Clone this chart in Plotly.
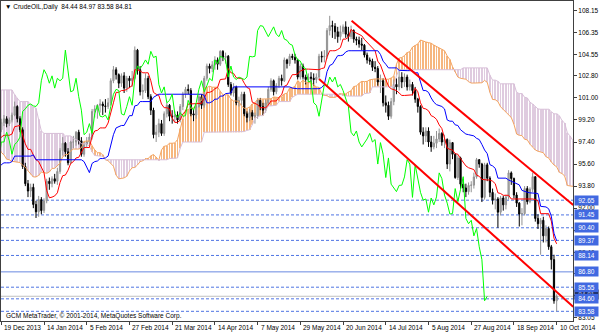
import numpy as np
import pandas as pd
import plotly.graph_objects as go

# ---------------- data (CrudeOIL, Daily) ----------------
# hidden history before the first visible bar (only highs/lows, used by the Ichimoku lookback)
pre_high = [108.9, 108.9, 109.3, 108.6, 108.6, 110.7, 110.0, 109.5, 108.0, 108.9,
            108.8, 108.9, 106.4, 108.7, 108.5, 106.7, 104.8, 104.0, 103.5, 103.5,
            103.2, 102.8, 102.9, 104.3, 104.4, 104.0, 103.9, 104.0, 103.6, 103.4,
            103.2, 102.7, 102.5, 102.7, 102.3, 101.4, 100.8, 99.6, 98.4, 97.9,
            98.0, 99.0, 98.8, 98.5, 97.0, 96.6, 95.0, 95.1, 95.2, 95.4,
            95.1, 95.3, 95.1, 94.0, 94.0, 94.3, 94.5, 93.5, 94.4, 95.6,
            95.5, 95.1, 94.1, 93.5, 93.4, 93.8, 96.1, 97.4, 97.6, 97.9,
            98.1, 98.7, 98.5, 98.1, 97.8, 97.7, 97.5, 98.3]
pre_low = [107.3, 107.3, 106.8, 106.8, 106.9, 107.3, 108.8, 106.7, 106.9, 107.4,
           107.6, 105.9, 105.0, 104.9, 106.3, 104.5, 103.3, 102.9, 101.9, 102.4,
           102.0, 101.5, 101.1, 101.9, 102.7, 102.9, 102.5, 102.9, 101.5, 101.3,
           101.6, 101.2, 100.9, 100.6, 100.5, 99.9, 98.8, 97.8, 96.7, 96.5,
           96.8, 97.6, 97.6, 96.6, 95.9, 94.3, 94.1, 92.9, 93.4, 93.9,
           93.8, 94.3, 92.6, 92.6, 92.9, 93.2, 92.9, 92.5, 92.7, 93.7,
           94.5, 93.9, 93.2, 92.2, 91.8, 92.5, 93.5, 95.6, 96.4, 96.9,
           97.1, 97.1, 97.3, 96.6, 96.3, 96.6, 96.7, 96.8]

open_ = [98.4, 99.0, 99.3, 98.9, 99.2, 99.6, 100.3, 99.3, 98.4, 95.4,
         94.0, 93.4, 93.7, 92.3, 91.7, 92.7, 91.8, 92.6, 94.2, 94.0,
         94.4, 94.2, 95.0, 96.7, 97.3, 96.6, 95.7, 97.4, 97.4, 98.2,
         97.5, 96.4, 97.2, 97.4, 97.8, 99.9, 100.1, 100.4, 100.5, 100.35,
         100.3, 100.6, 102.4, 103.3, 102.9, 102.2, 102.8, 101.8, 102.6, 102.4,
         102.6, 104.9, 103.3, 101.5, 101.6, 102.6, 101.1, 100.0, 98.0, 98.2,
         98.9, 98.1, 99.7, 100.4, 99.5, 99.45, 99.6, 99.2, 100.3, 101.3,
         101.7, 101.6, 99.7, 99.6, 100.3, 101.1, 100.4, 102.6, 103.6, 103.4,
         103.7, 104.1, 103.75, 104.8, 104.3, 104.4, 102.1, 101.4, 101.9, 100.6,
         100.8, 101.3, 99.7, 99.4, 99.8, 99.5, 99.55, 100.8, 100.3, 100.0,
         100.6, 101.7, 102.4, 101.5, 102.0, 102.6, 102.4, 104.1, 103.8, 104.4,
         104.3, 104.1, 102.7, 103.6, 102.7, 102.5, 102.7, 102.6, 102.5, 102.7,
         104.4, 104.35, 104.4, 106.5, 106.9, 106.85, 106.4, 106.0, 106.4, 106.8,
         106.2, 106.0, 106.5, 105.8, 105.7, 105.4, 105.3, 104.5, 104.1, 104.0,
         103.5, 103.4, 102.3, 102.4, 100.6, 100.4, 99.5, 100.7, 102.1, 101.9,
         102.7, 102.3, 102.7, 101.9, 102.1, 101.6, 100.9, 100.3, 98.2, 97.9,
         98.3, 97.4, 97.0, 97.3, 97.65, 98.1, 97.4, 97.6, 95.6, 97.35,
         96.4, 94.5, 96.1, 93.96, 93.65, 93.35, 93.86, 93.88, 94.55, 95.96,
         95.6, 92.88, 95.54, 94.45, 93.29, 92.66, 92.75, 91.67, 92.83, 92.27,
         92.92, 94.88, 94.42, 93.07, 92.41, 91.52, 91.56, 93.6, 92.53, 93.54,
         94.57, 91.16, 90.73, 91.01, 89.74, 90.34, 88.85, 87.8, 84.44]
high_ = [99.3, 99.6, 99.5, 99.4, 99.8, 100.7, 100.4, 99.5, 98.6, 95.7,
         94.3, 94.0, 94.0, 92.6, 93.0, 92.9, 92.8, 94.4, 94.5, 94.6,
         94.8, 95.3, 96.9, 97.8, 97.4, 96.9, 97.5, 97.9, 98.3, 98.4,
         97.8, 97.4, 97.8, 98.1, 100.1, 100.4, 100.5, 100.9, 100.7, 100.9,
         101.0, 102.6, 103.6, 103.5, 103.0, 103.0, 103.1, 102.8, 102.8, 103.2,
         105.2, 105.0, 103.6, 102.1, 103.0, 102.8, 101.3, 100.2, 98.8, 99.3,
         99.2, 99.9, 100.6, 100.5, 100.0, 99.9, 99.9, 100.5, 101.5, 101.9,
         102.1, 101.8, 100.1, 100.5, 101.3, 101.3, 102.8, 103.8, 103.8, 104.0,
         104.4, 104.3, 104.9, 104.9, 104.7, 104.5, 102.3, 102.2, 102.0, 101.1,
         101.5, 101.5, 99.9, 100.1, 100.0, 99.8, 101.0, 101.0, 100.6, 100.9,
         101.9, 102.6, 102.5, 102.2, 102.8, 102.9, 104.3, 104.2, 104.6, 104.6,
         104.6, 104.2, 103.8, 103.8, 102.9, 103.0, 103.1, 103.0, 103.0, 104.6,
         104.8, 104.9, 106.7, 107.7, 107.3, 107.1, 106.8, 106.9, 107.0, 107.25,
         106.8, 106.9, 106.6, 106.0, 106.0, 105.9, 105.4, 104.7, 104.3, 104.2,
         104.0, 103.6, 102.9, 102.6, 101.2, 100.7, 101.0, 102.5, 102.6, 103.2,
         103.1, 103.0, 102.9, 102.5, 102.3, 101.9, 101.0, 100.4, 98.6, 98.6,
         98.6, 97.9, 97.9, 98.3, 98.5, 98.2, 98.0, 97.7, 97.6, 97.4,
         96.5, 96.3, 96.2, 94.4, 94.0, 94.1, 94.2, 94.9, 96.1, 96.0,
         95.7, 95.7, 95.7, 94.6, 93.6, 93.2, 92.9, 93.0, 93.0, 93.1,
         95.1, 95.0, 94.5, 93.3, 92.5, 92.0, 93.8, 93.8, 93.7, 94.9,
         94.6, 91.5, 91.2, 91.3, 90.6, 90.5, 89.0, 88.2, 84.97]
low_ = [98.2, 98.7, 98.6, 98.7, 99.0, 99.5, 99.0, 98.2, 95.2, 93.8,
        92.9, 92.9, 92.0, 91.2, 91.3, 91.5, 91.6, 92.4, 93.5, 93.7,
        94.0, 93.9, 94.8, 96.3, 96.2, 95.5, 95.6, 96.9, 97.1, 97.2,
        96.2, 96.2, 96.9, 97.2, 97.6, 99.4, 99.3, 99.8, 99.6, 99.8,
        100.1, 100.4, 102.2, 102.5, 101.8, 101.9, 101.4, 101.5, 101.8, 101.9,
        102.5, 102.9, 101.2, 100.9, 101.4, 100.9, 99.6, 97.7, 97.4, 97.8,
        97.9, 97.9, 99.4, 99.1, 98.9, 99.0, 98.9, 99.0, 100.0, 101.0,
        101.3, 99.5, 99.1, 99.3, 100.2, 100.1, 100.2, 102.4, 103.0, 103.1,
        103.3, 103.3, 103.6, 104.0, 103.8, 101.9, 101.2, 101.1, 100.4, 100.3,
        100.4, 99.5, 99.0, 99.1, 99.2, 98.9, 99.3, 100.0, 99.6, 99.8,
        100.4, 101.5, 101.2, 101.3, 101.8, 102.0, 102.3, 103.4, 103.6, 104.1,
        103.8, 102.5, 102.5, 102.5, 102.1, 102.2, 102.2, 102.0, 102.2, 102.5,
        103.9, 103.9, 104.2, 106.1, 105.9, 105.8, 105.5, 105.7, 106.2, 105.9,
        105.6, 105.8, 105.5, 105.3, 105.1, 104.9, 104.3, 103.8, 103.7, 103.2,
        103.1, 102.0, 101.4, 100.3, 99.8, 99.2, 99.3, 100.4, 101.3, 101.6,
        101.8, 101.9, 101.6, 101.6, 101.2, 100.6, 99.8, 98.0, 97.2, 97.4,
        97.0, 96.6, 96.8, 96.9, 97.4, 97.1, 96.9, 95.2, 95.0, 96.0,
        94.4, 94.3, 93.6, 93.3, 92.9, 93.1, 93.3, 93.6, 94.4, 95.3,
        92.5, 92.7, 94.2, 92.9, 92.3, 91.9, 90.4, 91.4, 91.8, 91.9,
        92.7, 93.9, 92.8, 92.1, 90.5, 90.6, 91.4, 92.3, 92.4, 93.3,
        90.9, 90.3, 88.2, 89.2, 89.2, 88.6, 87.0, 84.2, 83.58]
close_ = [99.0, 99.3, 98.9, 99.2, 99.6, 100.3, 99.3, 98.4, 95.4, 94.0,
          93.4, 93.7, 92.3, 91.7, 92.7, 91.8, 92.6, 94.2, 94.0, 94.4,
          94.2, 95.0, 96.7, 97.3, 96.6, 95.7, 97.4, 97.4, 98.2, 97.5,
          96.4, 97.2, 97.4, 97.8, 99.9, 100.1, 100.4, 100.5, 100.35, 100.3,
          100.6, 102.4, 103.3, 102.9, 102.2, 102.8, 101.8, 102.6, 102.4, 102.6,
          104.9, 103.3, 101.5, 101.6, 102.6, 101.1, 100.0, 98.0, 98.2, 98.9,
          98.1, 99.7, 100.4, 99.5, 99.45, 99.6, 99.2, 100.3, 101.3, 101.7,
          101.6, 99.7, 99.6, 100.3, 101.1, 100.4, 102.6, 103.6, 103.4, 103.7,
          104.1, 103.75, 104.8, 104.3, 104.4, 102.1, 101.4, 101.9, 100.6, 100.8,
          101.3, 99.7, 99.4, 99.8, 99.5, 99.55, 100.8, 100.3, 100.0, 100.6,
          101.7, 102.4, 101.5, 102.0, 102.6, 102.4, 104.1, 103.8, 104.4, 104.3,
          104.1, 102.7, 103.6, 102.7, 102.5, 102.7, 102.6, 102.5, 102.7, 104.4,
          104.35, 104.4, 106.5, 106.9, 106.85, 106.4, 106.0, 106.4, 106.8, 106.2,
          106.0, 106.5, 105.8, 105.7, 105.4, 105.3, 104.5, 104.1, 104.0, 103.5,
          103.4, 102.3, 102.4, 100.6, 100.4, 99.5, 100.7, 102.1, 101.9, 102.7,
          102.3, 102.7, 101.9, 102.1, 101.6, 100.9, 100.3, 98.2, 97.9, 98.3,
          97.4, 97.0, 97.3, 97.65, 98.1, 97.4, 97.6, 95.6, 97.35, 96.4,
          94.5, 96.1, 93.96, 93.65, 93.35, 93.86, 93.88, 94.55, 95.96, 95.6,
          92.88, 95.54, 94.45, 93.29, 92.66, 92.75, 91.67, 92.83, 92.27, 92.92,
          94.88, 94.42, 93.07, 92.41, 91.52, 91.56, 93.6, 92.53, 93.54, 94.57,
          91.16, 90.73, 91.01, 89.74, 90.34, 88.85, 87.8, 84.44, 84.81]

date_ticks = [0, 16, 32, 48, 64, 80, 96, 112, 128, 144, 160, 176, 192, 208]
date_labels = ["19 Dec 2013", "14 Jan 2014", "5 Feb 2014", "27 Feb 2014", "21 Mar 2014",
               "14 Apr 2014", "7 May 2014", "29 May 2014", "20 Jun 2014", "14 Jul 2014",
               "5 Aug 2014", "27 Aug 2014", "18 Sep 2014", "10 Oct 2014"]
price_ticks = [108.15, 106.35, 104.55, 102.80, 101.00, 99.20, 97.40, 95.60, 93.80,
               92.00, 90.20, 88.40, 86.65, 84.85, 83.05]
# scale labels that sit under a level box are not drawn (hidden in the original)
hidden_tick_labels = [90.20, 86.65, 84.85]

dotted_levels = [92.65, 91.45, 90.40, 89.37, 88.14, 85.55, 84.60, 83.58]
solid_level = 86.80
bid_price = 84.81

trend_upper_bars = [131.2, 214.2]
trend_upper_prices = [107.30, 92.26]
trend_lower_bars = [119.0, 214.2]
trend_lower_prices = [102.54, 83.95]

title_text = "\u25BC CrudeOIL,Daily  84.44 84.97 83.58 84.81"
copyright_text = "GCM MetaTrader, \u00A9 2001-2014, MetaQuotes Software Corp."

# ---------------- Ichimoku (9, 26, 52) ----------------
n = len(close_)
bars = np.arange(n)
H = np.array(pre_high + high_, dtype=float)
L = np.array(pre_low + low_, dtype=float)
all_idx = np.arange(-len(pre_high), n)


def midline(p):
    hh = pd.Series(H).rolling(p).max().to_numpy()
    ll = pd.Series(L).rolling(p).min().to_numpy()
    return (hh + ll) / 2.0


tenkan = midline(9)
kijun = midline(26)
span_a = (tenkan + kijun) / 2.0
span_b = midline(52)
span_x = all_idx + 26

FONT = "Liberation Sans"
FS = 6.5

fig = go.Figure()

valid = ~np.isnan(span_a) & ~np.isnan(span_b)
sx, sa, sb = span_x[valid], span_a[valid], span_b[valid]
lo = np.minimum(sa, sb)
hi = np.maximum(sa, sb)
cols = np.where(sa >= sb, "#F4A460", "#D8BFD8")
fig.add_trace(go.Bar(x=sx, y=hi - lo, base=lo, width=0.3, opacity=0.8,
                     marker=dict(color=cols, line=dict(width=0)), hoverinfo="skip"))
fig.add_trace(go.Scatter(x=span_x, y=span_a, mode="lines",
                         line=dict(color="#F4A460", width=1), hoverinfo="skip"))
fig.add_trace(go.Scatter(x=span_x, y=span_b, mode="lines",
                         line=dict(color="#D8BFD8", width=1), hoverinfo="skip"))

# horizontal levels (behind candles)
shapes = []
for lv in dotted_levels:
    shapes.append(dict(type="line", xref="paper", x0=0, x1=1, yref="y", y0=lv, y1=lv,
                       line=dict(color="#4F74E3", width=1, dash="3px,2px"), layer="below"))
shapes.append(dict(type="line", xref="paper", x0=0, x1=1, yref="y", y0=solid_level, y1=solid_level,
                   line=dict(color="#6A88E0", width=1), layer="below"))
shapes.append(dict(type="line", xref="paper", x0=0, x1=1, yref="y", y0=bid_price, y1=bid_price,
                   line=dict(color="#C0C0C0", width=1), layer="below"))

fig.add_trace(go.Candlestick(
    x=bars, open=open_, high=high_, low=low_, close=close_,
    increasing=dict(line=dict(color="#929292", width=1), fillcolor="#B0B0B0"),
    decreasing=dict(line=dict(color="#000000", width=1), fillcolor="#000000"),
    whiskerwidth=0, hoverinfo="skip"))

fig.add_trace(go.Scatter(x=all_idx, y=tenkan, mode="lines",
                         line=dict(color="#FF0000", width=1), hoverinfo="skip"))
fig.add_trace(go.Scatter(x=all_idx, y=kijun, mode="lines",
                         line=dict(color="#0000FF", width=1), hoverinfo="skip"))
fig.add_trace(go.Scatter(x=bars - 26, y=close_, mode="lines",
                         line=dict(color="#00FF00", width=1), hoverinfo="skip"))

fig.add_trace(go.Scatter(x=trend_upper_bars, y=trend_upper_prices, mode="lines",
                         line=dict(color="#FF0000", width=2), hoverinfo="skip"))
fig.add_trace(go.Scatter(x=trend_lower_bars, y=trend_lower_prices, mode="lines",
                         line=dict(color="#FF0000", width=2), hoverinfo="skip"))

ann = []
ann.append(dict(text=title_text, xref="paper", yref="paper", x=0.004, y=0.981,
                xanchor="left", yanchor="middle", showarrow=False,
                font=dict(family=FONT, size=FS, color="#000000")))
ann.append(dict(text=copyright_text, xref="paper", yref="paper", x=0.006, y=0.016,
                xanchor="left", yanchor="middle", showarrow=False,
                font=dict(family=FONT, size=FS, color="#000000")))
for t, lab in zip(date_ticks, date_labels):
    ann.append(dict(text=lab, x=t, xref="x", y=-0.021, yref="paper", xanchor="left",
                    yanchor="middle", xshift=1, showarrow=False,
                    font=dict(family=FONT, size=FS, color="#000000")))
# price boxes on the right scale
ann.append(dict(text=f"{bid_price:.2f}", x=1, xref="paper", y=bid_price, yref="y",
                xanchor="left", yanchor="middle", xshift=1, yshift=2, showarrow=False,
                bgcolor="#000000", borderpad=1, width=21,
                font=dict(family=FONT, size=FS, color="#FFFFFF")))
for lv in dotted_levels + [solid_level]:
    ann.append(dict(text=f"{lv:.2f}", x=1, xref="paper", y=lv, yref="y",
                    xanchor="left", yanchor="middle", xshift=1, showarrow=False,
                    bgcolor="#4169E1", borderpad=1, width=21,
                    font=dict(family=FONT, size=FS, color="#FFFFFF")))

tick_text = ["" if v in hidden_tick_labels else f"{v:.2f}" for v in price_ticks]

fig.update_layout(
    width=600, height=333,
    margin=dict(l=1, r=27, t=1, b=12),
    paper_bgcolor="#FFFFFF", plot_bgcolor="#FFFFFF",
    showlegend=False, boxgap=0.35,
    shapes=shapes, annotations=ann,
    xaxis=dict(range=[-0.11, 214.12], rangeslider=dict(visible=False),
               showgrid=False, zeroline=False, showline=True, mirror=True,
               linecolor="#404040", linewidth=1, ticks="outside", ticklen=3,
               tickcolor="#404040", tickvals=date_ticks, showticklabels=False),
    yaxis=dict(range=[82.79, 108.91], side="right", showgrid=False, zeroline=False,
               showline=True, mirror=True, linecolor="#404040", linewidth=1,
               ticks="outside", ticklen=3, tickcolor="#404040",
               tickvals=price_ticks, ticktext=tick_text,
               tickfont=dict(family=FONT, size=FS, color="#000000")),
)

fig.write_html("out.html")
